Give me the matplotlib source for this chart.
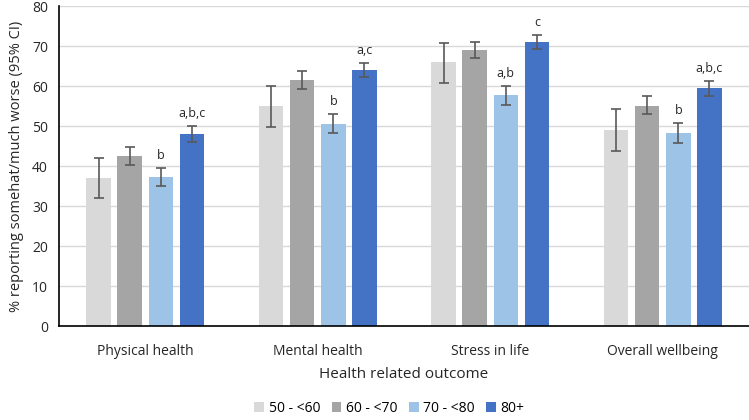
import matplotlib
matplotlib.use("Agg")
import matplotlib.pyplot as plt
import numpy as np

plt.rcParams['font.family'] = ['Open Sans', 'DejaVu Sans']

categories = ["Physical health", "Mental health", "Stress in life", "Overall wellbeing"]
groups = ["50 - <60", "60 - <70", "70 - <80", "80+"]
colors = ["#D9D9D9", "#A5A5A5", "#9DC3E6", "#4472C4"]

values = {
    "50 - <60": [37.0, 55.0, 65.9, 49.0],
    "60 - <70": [42.5, 61.5, 69.0, 55.1],
    "70 - <80": [37.2, 50.6, 57.7, 48.2],
    "80+":      [48.0, 64.0, 71.1, 59.4],
}
ci_low = {
    "50 - <60": [32.0, 49.7, 60.8, 43.8],
    "60 - <70": [40.3, 59.3, 66.9, 52.9],
    "70 - <80": [35.0, 48.3, 55.3, 45.8],
    "80+":      [46.0, 62.2, 69.3, 57.6],
}
ci_high = {
    "50 - <60": [42.0, 60.0, 70.7, 54.3],
    "60 - <70": [44.8, 63.7, 71.1, 57.4],
    "70 - <80": [39.6, 53.0, 60.1, 50.7],
    "80+":      [50.0, 65.8, 72.8, 61.3],
}
annotations = {
    "70 - <80": ["b", "b", "a,b", "b"],
    "80+":      ["a,b,c", "a,c", "c", "a,b,c"],
}
yticks = [0, 10, 20, 30, 40, 50, 60, 70, 80]

fig = plt.figure(figsize=(7.49, 4.2), dpi=100)
ax = fig.add_axes([0.0788, 0.2238, 0.9212, 0.7619])

x = np.arange(len(categories))
width = 0.142
step = 0.18
offsets = (np.arange(len(groups)) - 1.5) * step

for i, g in enumerate(groups):
    v = np.array(values[g])
    lo = v - np.array(ci_low[g])
    hi = np.array(ci_high[g]) - v
    ax.bar(x + offsets[i], v, width=width, color=colors[i], label=g, zorder=2)
    ax.errorbar(x + offsets[i], v, yerr=[lo, hi], fmt='none', ecolor='#595959',
                elinewidth=1.2, capsize=3.5, capthick=1.2, zorder=3)
    if g in annotations:
        for j, t in enumerate(annotations[g]):
            ax.text(x[j] + offsets[i], ci_high[g][j] + 1.5, t, ha='center', va='bottom',
                    fontsize=9, color='#262626')

ax.set_xlim(-0.5, 3.5)
ax.set_ylim(0, 80)
ax.set_yticks(yticks)
ax.set_xticks(x)
ax.set_xticklabels(categories)
ax.tick_params(axis='both', length=0, labelsize=10, colors='#262626')
ax.tick_params(axis='x', pad=13)
ax.tick_params(axis='y', pad=8)
ax.yaxis.grid(True, color='#D9D9D9', linewidth=1, zorder=0)
ax.set_axisbelow(True)
for s in ['top', 'right']:
    ax.spines[s].set_visible(False)
ax.spines['left'].set_color('black')
ax.spines['bottom'].set_color('black')
ax.spines['left'].set_linewidth(1.2)
ax.spines['bottom'].set_linewidth(1.2)

ax.set_ylabel("% reporting somehat/much worse (95% CI)", fontsize=10.5, color='#262626', labelpad=6)
ax.set_xlabel("Health related outcome", fontsize=11, color='#262626', labelpad=6)

fig.legend(loc='lower center', ncol=4, bbox_to_anchor=(0.52, -0.02), frameon=False,
           fontsize=10, handlelength=0.7, handleheight=0.7, handletextpad=0.35, columnspacing=0.8)

fig.savefig("out.png", dpi=100)
